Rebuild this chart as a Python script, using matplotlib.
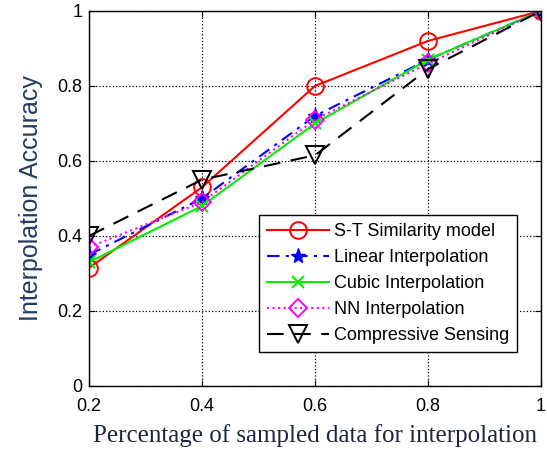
import numpy as np
import matplotlib.pyplot as plt

# datos
x = [0.2, 0.4, 0.6, 0.8, 1.0]
st_sim = [0.315, 0.53, 0.80, 0.92, 1.0]
linear = [0.35, 0.50, 0.72, 0.87, 1.0]
cubic = [0.33, 0.48, 0.70, 0.87, 1.0]
nn = [0.37, 0.49, 0.71, 0.86, 1.0]
cs = [0.40, 0.55, 0.615, 0.845, 1.0]

plt.rcParams["font.family"] = "Liberation Sans"

fig = plt.figure(figsize=(5.47, 4.55), dpi=100)
ax = fig.add_axes([0.163, 0.152, 0.826, 0.824])

ax.plot(x, st_sim, "-", color="red", lw=1.5, marker="o", ms=12, mfc="none", mew=1.4,
        label="S-T Similarity model")
ax.plot(x, linear, "-.", color="blue", lw=1.5, marker="*", ms=11, mew=1.0,
        label="Linear Interpolation", dashes=(6, 3, 1.5, 3))
ax.plot(x, cubic, "-", color="#00ee00", lw=1.5, marker="x", ms=8, mew=1.5,
        label="Cubic Interpolation")
ax.plot(x, nn, ":", color="magenta", lw=1.5, marker="D", ms=9, mfc="none", mew=1.4,
        label="NN Interpolation")
ax.plot(x, cs, "--", color="black", lw=1.5, marker="v", ms=13, mfc="none", mew=1.4,
        label="Compressive Sensing", dashes=(8, 5))

ax.set_xlim(0.2, 1.0)
ax.set_ylim(0, 1)
ax.set_xticks([0.2, 0.4, 0.6, 0.8, 1.0])
ax.set_xticklabels(["0.2", "0.4", "0.6", "0.8", "1"])
ax.set_yticks([0, 0.2, 0.4, 0.6, 0.8, 1.0])
ax.set_yticklabels(["0", "0.2", "0.4", "0.6", "0.8", "1"])
ax.tick_params(direction="in", top=True, right=True, labelsize=13, length=4)
ax.tick_params(axis="x", pad=9)
ax.tick_params(axis="y", pad=5)
ax.grid(True, linestyle=":", color="black", lw=0.9)
for s in ax.spines.values():
    s.set_linewidth(1.0)

ax.set_xlabel("Percentage of sampled data for interpolation", family="Liberation Serif",
              fontsize=18, color="#1b2540", labelpad=6)
ax.set_ylabel("Interpolation Accuracy", fontsize=18, color="#243a5e", labelpad=10)

leg = ax.legend(loc="lower right", bbox_to_anchor=(0.968, 0.065), fontsize=13,
                fancybox=False, edgecolor="black", framealpha=1, handlelength=3.4,
                borderpad=0.45, labelspacing=0.5, handletextpad=0.3)
leg.get_frame().set_linewidth(1.0)

plt.savefig("out.png", dpi=100)
